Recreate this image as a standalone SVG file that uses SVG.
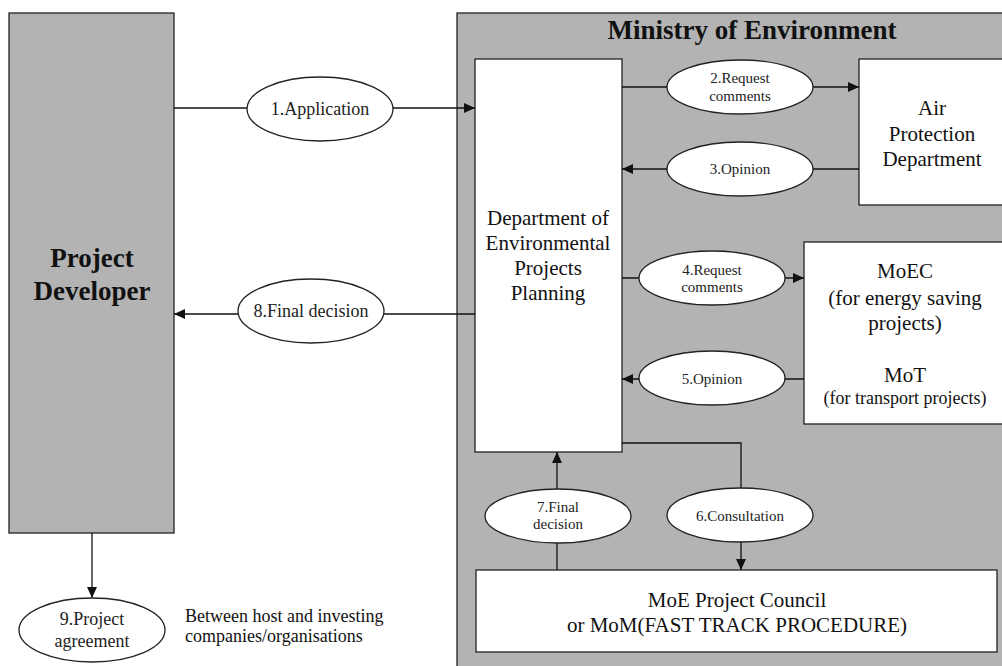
<svg xmlns="http://www.w3.org/2000/svg" width="1002" height="666" viewBox="0 0 1002 666">
<defs>
<style>
.grey{fill:#b3b3b3;stroke:#222;stroke-width:1.3}
.box{fill:#fff;stroke:#222;stroke-width:1.3}
.ell{fill:#fff;stroke:#222;stroke-width:1.3}
.con{fill:none;stroke:#111;stroke-width:1.3}
text{font-family:"Liberation Serif","Times New Roman",serif;fill:#111;text-anchor:middle}
.big{font-size:21px}
.bold{font-size:27px;font-weight:bold}
.l18{font-size:18px;fill:#222}
.l15{font-size:15px;fill:#222}
</style>
<marker id="arr" markerUnits="userSpaceOnUse" markerWidth="12" markerHeight="10" refX="11" refY="5" orient="auto">
<path d="M0,0 L11,5 L0,10 z" fill="#111"/>
</marker>
</defs>
<rect width="1002" height="666" fill="#fff"/>

<g id="ministry">
<rect class="grey" x="457" y="13" width="560" height="680"/>
<text class="bold" x="752" y="39">Ministry of Environment</text>
</g>

<g id="project-developer">
<rect class="grey" x="9" y="13" width="165" height="520"/>
<text class="bold" x="92" y="267">Project</text>
<text class="bold" x="92" y="300">Developer</text>
</g>

<g id="dept">
<rect class="box" x="475" y="59" width="147" height="393"/>
<text class="big" x="548" y="225">Department of</text>
<text class="big" x="548" y="250">Environmental</text>
<text class="big" x="548" y="275">Projects</text>
<text class="big" x="548" y="300">Planning</text>
</g>

<g id="air">
<rect class="box" x="859" y="59" width="160" height="146"/>
<text class="big" x="932" y="115">Air</text>
<text class="big" x="932" y="141">Protection</text>
<text class="big" x="932" y="166">Department</text>
</g>

<g id="moec">
<rect class="box" x="804" y="242" width="220" height="182"/>
<text class="big" x="905" y="278">MoEC</text>
<text class="big" x="905" y="305">(for energy saving</text>
<text class="big" x="905" y="330">projects)</text>
<text class="big" x="905" y="382">MoT</text>
<text class="l18" x="905" y="404" style="fill:#111">(for transport projects)</text>
</g>

<g id="council">
<rect class="box" x="476" y="570" width="521" height="82"/>
<text class="big" x="737" y="607">MoE Project Council</text>
<text class="big" x="737" y="632">or MoM(FAST TRACK PROCEDURE)</text>
</g>

<g id="connectors">
<line class="con" x1="174" y1="108" x2="475" y2="108" marker-end="url(#arr)"/>
<line class="con" x1="475" y1="314" x2="174" y2="314" marker-end="url(#arr)"/>
<line class="con" x1="622" y1="87" x2="859" y2="87" marker-end="url(#arr)"/>
<line class="con" x1="859" y1="169" x2="622" y2="169" marker-end="url(#arr)"/>
<line class="con" x1="622" y1="278" x2="804" y2="278" marker-end="url(#arr)"/>
<line class="con" x1="804" y1="379" x2="622" y2="379" marker-end="url(#arr)"/>
<polyline class="con" points="622,443 741,443 741,570" marker-end="url(#arr)"/>
<line class="con" x1="557" y1="570" x2="557" y2="452" marker-end="url(#arr)"/>
<line class="con" x1="92" y1="533" x2="92" y2="598" marker-end="url(#arr)"/>
</g>

<g id="label1">
<ellipse class="ell" cx="320" cy="109" rx="73" ry="32"/>
<text class="l18" x="320" y="115">1.Application</text>
</g>
<g id="label8">
<ellipse class="ell" cx="311" cy="311" rx="73" ry="32"/>
<text class="l18" x="311" y="317">8.Final decision</text>
</g>
<g id="label2">
<ellipse class="ell" cx="740" cy="87" rx="73" ry="27"/>
<text class="l15" x="740" y="83">2.Request</text>
<text class="l15" x="740" y="101">comments</text>
</g>
<g id="label3">
<ellipse class="ell" cx="740" cy="169" rx="73" ry="27"/>
<text class="l15" x="740" y="174">3.Opinion</text>
</g>
<g id="label4">
<ellipse class="ell" cx="712" cy="278" rx="73" ry="27"/>
<text class="l15" x="712" y="275">4.Request</text>
<text class="l15" x="712" y="292">comments</text>
</g>
<g id="label5">
<ellipse class="ell" cx="712" cy="378" rx="73" ry="27"/>
<text class="l15" x="712" y="384">5.Opinion</text>
</g>
<g id="label6">
<ellipse class="ell" cx="740" cy="515" rx="73" ry="27"/>
<text class="l15" x="740" y="521">6.Consultation</text>
</g>
<g id="label7">
<ellipse class="ell" cx="558" cy="516" rx="73" ry="27"/>
<text class="l15" x="558" y="512">7.Final</text>
<text class="l15" x="558" y="529">decision</text>
</g>
<g id="label9">
<ellipse class="ell" cx="92" cy="630" rx="73" ry="32"/>
<text class="l18" x="92" y="625">9.Project</text>
<text class="l18" x="92" y="647">agreement</text>
</g>

<g id="note">
<text x="185" y="622" style="font-size:18px;text-anchor:start">Between host and investing</text>
<text x="185" y="642" style="font-size:18px;text-anchor:start">companies/organisations</text>
</g>
</svg>
